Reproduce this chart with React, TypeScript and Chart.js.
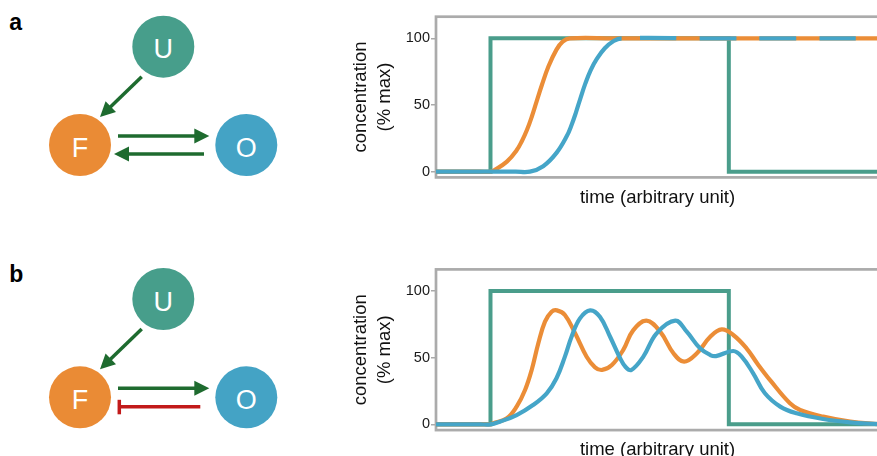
import React, { useEffect, useRef } from "react";
import { Chart, registerables } from "chart.js";

Chart.register(...registerables);

// ---------- data ----------
const yTicks = [0, 50, 100];

// panel a: stimulus (U), F and O
const aUTime = [0, 12.3, 12.3, 66.1, 66.1, 100];
const aUValue = [0, 0, 100, 100, 0, 0];
const aFTime = [0, 5, 10, 12.3, 13.3, 16.0, 18.2, 19.4, 20.5, 21.6, 22.7, 23.9, 25.4, 27.2, 28.6, 30.2, 40, 60, 80, 100];
const aFValue = [0, 0, 0, 0, 1.4, 7.5, 16, 23, 31, 41, 52.5, 65, 79, 91.5, 97.5, 100, 100, 100, 100, 100];
const aOTime = [0, 6, 12, 18, 21.2, 24.2, 27.2, 29.5, 30.6, 31.6, 32.6, 33.7, 34.9, 36.3, 38.1, 40.1, 41.9, 60, 80, 100];
const aOValue = [0, 0, 0, 0, 0, 4.1, 14.1, 26.5, 35, 44.5, 55, 66, 76, 84.5, 92.5, 98, 100, 100, 100, 100];
const aDashStart = 41.9;

// panel b: stimulus (U), F and O
const bUTime = [0, 12.3, 12.3, 66.1, 66.1, 100];
const bUValue = [0, 0, 100, 100, 0, 0];
const bFTime = [0, 5, 10, 12.3, 12.9, 16.0, 18.2, 20.1, 21.6, 23.1, 24.6, 26.1, 27.3, 29.1, 31.4, 34.0, 35.9, 37.5, 39.7, 42.3, 44.5, 47.5, 50.6, 53.6, 56.0, 58.9, 61.9, 64.5, 67.1, 70.1, 72.6, 75.7, 79.9, 82.2, 87.4, 93.5, 100];
const bFValue = [0, 0, 0, 0, 0.8, 4.6, 13.3, 25.8, 40.8, 60.8, 77, 84.5, 85.5, 82, 68.3, 50.7, 42.8, 40.8, 44.5, 56, 70.5, 77.8, 69.5, 53.3, 47, 53.3, 65.7, 71.2, 67, 57, 45.3, 32, 15.8, 10.8, 5.8, 2, 0.2];
const bOTime = [0, 5, 10, 12.3, 14.4, 18.2, 21.9, 25.0, 27.2, 29.1, 30.6, 32.5, 34.8, 37.0, 39.3, 41.5, 42.8, 44.1, 46.8, 49.8, 54.0, 56.6, 59.6, 61.9, 63.2, 67.1, 69.0, 71.6, 74.2, 77.7, 81.4, 87.4, 93.5, 100];
const bOValue = [0, 0, 0, 0, 2, 7, 14.5, 23.3, 34.6, 50.8, 65.7, 79.5, 85.5, 80.7, 65.7, 50, 43, 40.8, 50.8, 68.3, 77.8, 69.5, 57, 52, 51.2, 55, 50.8, 38.3, 23.5, 13.3, 8.3, 4, 1.5, 0.2];

// ---------- style ----------
const FONT = "'Liberation Sans', Arial, Helvetica, sans-serif";
const GREEN = "#4a9d8b";
const ORANGE = "#eb8d37";
const BLUE = "#45a5c8";
const ARROW = "#1e6b2f";
const RED = "#c21a1a";

const zip = (t: number[], v: number[]) => t.map((x, i) => ({ x, y: v[i] }));

const boxPlugin = {
  id: "box",
  beforeDatasetsDraw(chart: any) {
    const { ctx, chartArea: a } = chart;
    ctx.save();
    ctx.strokeStyle = "#ababab";
    ctx.lineWidth = 2.7;
    ctx.strokeRect(a.left, a.top, a.right - a.left, a.bottom - a.top);
    ctx.restore();
  },
};

function makeConfig(
  uT: number[], uV: number[], fT: number[], fV: number[], oT: number[], oV: number[],
  topPad: number, xHeight: number, titlePadB: number, dashStart: number | null
): any {
  return {
    type: "line",
    data: {
      datasets: [
        {
          label: "O",
          data: zip(oT, oV),
          borderColor: BLUE,
          borderWidth: 4.2,
          pointRadius: 0,
          tension: 0.4,
          segment: dashStart === null ? undefined : {
            borderDash: (c: any) => (c.p0.parsed.x >= dashStart ? [36.5, 23.3] : undefined),
            borderDashOffset: (c: any) => (c.p0.parsed.x >= dashStart ? 41.5 : 0),
          },
        },
        {
          label: "F",
          data: zip(fT, fV),
          borderColor: ORANGE,
          borderWidth: 4.2,
          pointRadius: 0,
          tension: 0.4,
        },
        {
          label: "U",
          data: zip(uT, uV),
          borderColor: GREEN,
          borderWidth: 4,
          pointRadius: 0,
          tension: 0,
          borderJoinStyle: "miter",
        },
      ],
    },
    options: {
      animation: false,
      responsive: false,
      maintainAspectRatio: false,
      layout: { padding: { left: 0, right: 21, top: topPad, bottom: 0 } },
      plugins: { legend: { display: false }, tooltip: { enabled: false } },
      scales: {
        x: {
          type: "linear",
          min: 0,
          max: 100,
          ticks: { display: false },
          grid: { display: false },
          border: { display: false },
          title: {
            display: true,
            text: "time (arbitrary unit)",
            color: "#111",
            font: { family: FONT, size: 18.5, lineHeight: 1.2 },
            padding: { top: 0, bottom: titlePadB },
          },
          afterFit: (s: any) => { s.height = xHeight; },
        },
        y: {
          type: "linear",
          min: -4.3,
          max: 116.2,
          afterBuildTicks: (s: any) => { s.ticks = yTicks.map((v) => ({ value: v })); },
          ticks: { color: "#1a1a1a", font: { family: FONT, size: 14.5 }, padding: 1 },
          grid: { display: true, drawOnChartArea: false, drawTicks: true, tickLength: 5, color: "#aaaaaa", lineWidth: 1.5 },
          border: { display: false },
          title: {
            display: true,
            text: ["concentration", "(% max)"],
            color: "#111",
            font: { family: FONT, size: 18.5, lineHeight: "24px" },
            padding: { top: 8.5, bottom: 0 },
          },
          afterFit: (s: any) => { s.width = 96; },
        },
      },
    },
    plugins: [boxPlugin],
  };
}

function LineChart(props: { top: number; config: any }) {
  const ref = useRef<HTMLCanvasElement | null>(null);
  useEffect(() => {
    if (!ref.current) return;
    const chart = new Chart(ref.current, props.config);
    return () => chart.destroy();
  }, []);
  return (
    <canvas
      ref={ref}
      width={560}
      height={215}
      style={{ position: "absolute", left: 340, top: props.top, width: 560, height: 215 }}
    />
  );
}

function Arrow(p: { x1: number; y1: number; x2: number; y2: number }) {
  const dx = p.x2 - p.x1, dy = p.y2 - p.y1;
  const L = Math.hypot(dx, dy);
  const ux = dx / L, uy = dy / L;
  const hl = 15, hw = 7.5;
  const bx = p.x2 - ux * hl, by = p.y2 - uy * hl;
  return (
    <g>
      <line x1={p.x1} y1={p.y1} x2={bx + ux * 2} y2={by + uy * 2} stroke={ARROW} strokeWidth={3.5} />
      <polygon
        points={`${p.x2},${p.y2} ${bx - uy * hw},${by + ux * hw} ${bx + uy * hw},${by - ux * hw}`}
        fill={ARROW}
      />
    </g>
  );
}

function Node(p: { cx: number; cy: number; fill: string; label: string }) {
  return (
    <g>
      <circle cx={p.cx} cy={p.cy} r={31} fill={p.fill} />
      <text x={p.cx} y={p.cy + 11.5} textAnchor="middle" fill="#ffffff" fontFamily={FONT} fontSize={27}>
        {p.label}
      </text>
    </g>
  );
}

function Diagram(p: { dy: number; inhibit: boolean; letter: string }) {
  const d = p.dy;
  return (
    <g>
      <text x={9.3} y={30 + d} fontFamily={FONT} fontWeight="bold" fontSize={23} fill="#000">{p.letter}</text>
      <Arrow x1={141.7} y1={76.7 + d} x2={100} y2={117 + d} />
      <Arrow x1={118} y1={136 + d} x2={209.3} y2={136 + d} />
      {p.inhibit ? (
        <g>
          <line x1={200.3} y1={154.5 + d} x2={119.3} y2={154.5 + d} stroke={RED} strokeWidth={3.5} />
          <line x1={119.3} y1={147.5 + d} x2={119.3} y2={162 + d} stroke={RED} strokeWidth={3.5} />
        </g>
      ) : (
        <Arrow x1={204} y1={154 + d} x2={114} y2={154 + d} />
      )}
      <Node cx={163.3} cy={46.7 + d} fill="#479e8b" label="U" />
      <Node cx={80} cy={145 + d} fill="#ea8b35" label="F" />
      <Node cx={246.3} cy={145 + d} fill="#44a3c5" label="O" />
    </g>
  );
}

export default function App() {
  const cfgA = makeConfig(aUTime, aUValue, aFTime, aFValue, aOTime, aOValue, 16.7, 37.6, 5.6, aDashStart);
  const cfgB = makeConfig(bUTime, bUValue, bFTime, bFValue, bOTime, bOValue, 19.4, 34.9, 3.5, null);
  return (
    <div style={{ position: "absolute", left: 0, top: 0, width: 877, height: 456, overflow: "hidden", background: "#fff" }}>
      <svg width={340} height={456} style={{ position: "absolute", left: 0, top: 0 }}>
        <Diagram dy={0} inhibit={false} letter="a" />
        <Diagram dy={252.3} inhibit={true} letter="b" />
      </svg>
      <LineChart top={0} config={cfgA} />
      <LineChart top={250} config={cfgB} />
    </div>
  );
}
